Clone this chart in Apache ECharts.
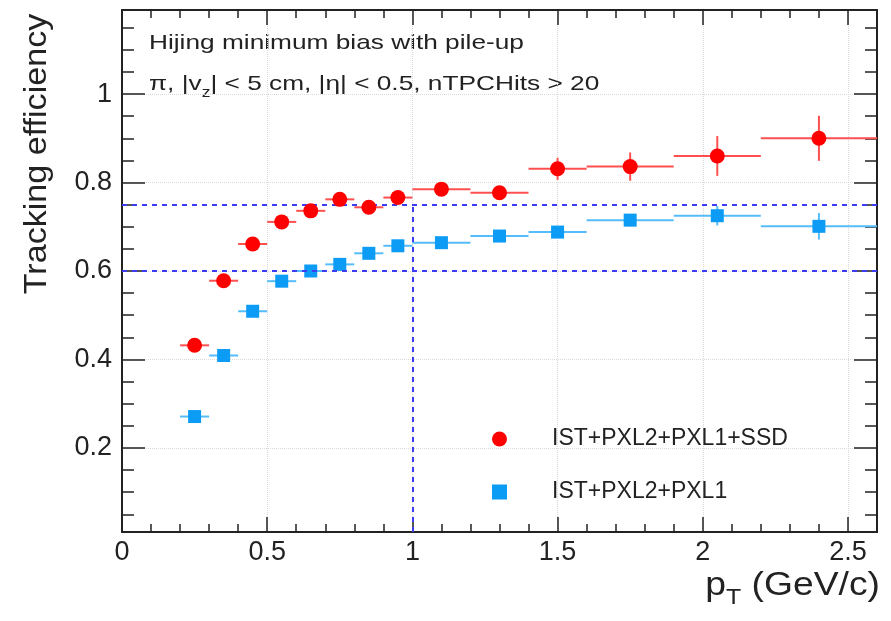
<!DOCTYPE html>
<html>
<head>
<meta charset="utf-8">
<script src="https://cdn.jsdelivr.net/npm/echarts@6/dist/echarts.min.js"></script>
<style>html,body{margin:0;padding:0;background:#fff}#c{width:891px;height:621px}</style>
</head>
<body>
<div id="c"></div>
<script>
// ---- data ----
const ptCenters   = [0.25, 0.35, 0.45, 0.55, 0.65, 0.75, 0.85, 0.95, 1.1, 1.3, 1.5, 1.75, 2.05, 2.4];
const ptHalfWidth = [0.05, 0.05, 0.05, 0.05, 0.05, 0.05, 0.05, 0.05, 0.1, 0.1, 0.1, 0.15, 0.15, 0.2];
const effSSD      = [0.432, 0.578, 0.661, 0.711, 0.736, 0.762, 0.744, 0.766, 0.785, 0.777, 0.831, 0.836, 0.860, 0.900];
const errSSD      = [0.006, 0.007, 0.007, 0.007, 0.008, 0.008, 0.009, 0.009, 0.010, 0.012, 0.025, 0.032, 0.045, 0.051];
const effNoSSD    = [0.271, 0.409, 0.509, 0.577, 0.600, 0.615, 0.640, 0.657, 0.664, 0.679, 0.688, 0.715, 0.725, 0.701];
const errNoSSD    = [0.005, 0.006, 0.006, 0.007, 0.007, 0.007, 0.008, 0.008, 0.008, 0.010, 0.012, 0.014, 0.022, 0.030];
const seriesNames = ['IST+PXL2+PXL1+SSD', 'IST+PXL2+PXL1'];

const xRange = [0, 2.6];
const yRange = [0.01, 1.19];
const xMajorTicks = [0, 0.5, 1, 1.5, 2, 2.5];
const xMinorTicks = [0.1, 0.2, 0.3, 0.4, 0.6, 0.7, 0.8, 0.9, 1.1, 1.2, 1.3, 1.4, 1.6, 1.7, 1.8, 1.9, 2.1, 2.2, 2.3, 2.4];
const yMajorTicks = [0.2, 0.4, 0.6, 0.8, 1];
const yMinorTicks = [0.05, 0.1, 0.15, 0.25, 0.3, 0.35, 0.45, 0.5, 0.55, 0.65, 0.7, 0.75, 0.85, 0.9, 0.95, 1.05, 1.1, 1.15];

// reference lines [x1, y1, x2, y2]
const refLines = [[0, 0.75, 2.6, 0.75], [0, 0.6, 2.6, 0.6], [1, 0.01, 1, 0.75]];

const annotLine1 = 'Hijing minimum bias with pile-up';
const annotLine2 = 'π, |v{sub|z}| < 5 cm, |η| < 0.5, nTPCHits > 20';
const yTitle = 'Tracking efficiency';
const xTitle = 'p{sub|T} (GeV/c)';

// ---- styling ----
const FONT = '"Liberation Sans", Arial, Helvetica, sans-serif';
const RED = '#ff0000', RED_ERR = '#ff5050';
const BLUE = '#0d9cf5', BLUE_ERR = '#55bdfb';
const FRAME = '#222';

function rows(eff, err) {
  return ptCenters.map((x, i) => [x, eff[i], ptHalfWidth[i], err[i]]);
}
function errRender(color) {
  return function (params, api) {
    const x = api.value(0), y = api.value(1), ex = api.value(2), ey = api.value(3);
    const l = api.coord([x - ex, y]), r = api.coord([x + ex, y]);
    const t = api.coord([x, y + ey]), b = api.coord([x, y - ey]);
    return {
      type: 'group',
      children: [
        {type: 'line', shape: {x1: l[0], y1: l[1], x2: r[0], y2: r[1]}, style: {stroke: color, lineWidth: 2}},
        {type: 'line', shape: {x1: t[0], y1: t[1], x2: b[0], y2: b[1]}, style: {stroke: color, lineWidth: 2}}
      ]
    };
  };
}

function xAx(pos, ticks, len, withLabel, withLine, withSplit) {
  return {
    type: 'value', min: xRange[0], max: xRange[1], position: pos,
    axisLine: {show: withLine, onZero: false, lineStyle: {color: FRAME, width: 2}},
    axisTick: {show: true, inside: true, length: len, customValues: ticks, lineStyle: {color: FRAME, width: 1.5}},
    axisLabel: withLabel ? {show: true, customValues: ticks, formatter: v => String(v), fontSize: 27, color: '#222', fontFamily: FONT, margin: 7} : {show: false},
    splitLine: {show: withSplit, lineStyle: {type: 'dotted', color: '#d9d9d9', width: 1}}
  };
}
function yAx(pos, ticks, len, withLabel, withLine, withSplit) {
  return {
    type: 'value', min: yRange[0], max: yRange[1], position: pos,
    axisLine: {show: withLine, onZero: false, lineStyle: {color: FRAME, width: 2}},
    axisTick: {show: true, inside: true, length: len, customValues: ticks, lineStyle: {color: FRAME, width: 1.5}},
    axisLabel: withLabel ? {show: true, customValues: ticks, formatter: v => String(v), fontSize: 27, color: '#222', fontFamily: FONT, margin: 10} : {show: false},
    splitLine: {show: withSplit, lineStyle: {type: 'dotted', color: '#d9d9d9', width: 1}}
  };
}

const chart = echarts.init(document.getElementById('c'));
chart.setOption({
  animation: false,
  backgroundColor: '#fff',
  grid: {left: 122, top: 10, width: 755, height: 522},
  xAxis: [
    xAx('bottom', xMajorTicks, 15, true, true, true),
    xAx('bottom', xMinorTicks, 8, false, false, false),
    xAx('top', xMajorTicks, 15, false, true, false),
    xAx('top', xMinorTicks, 8, false, false, false)
  ],
  yAxis: [
    yAx('left', yMajorTicks, 23, true, true, true),
    yAx('left', yMinorTicks, 12, false, false, false),
    yAx('right', yMajorTicks, 23, false, true, false),
    yAx('right', yMinorTicks, 12, false, false, false)
  ],
  legend: {
    orient: 'vertical', left: 487, top: 422, itemWidth: 15, itemHeight: 15, itemGap: 29,
    selectedMode: false,
    data: [{name: seriesNames[0], icon: 'circle'}, {name: seriesNames[1], icon: 'rect'}],
    textStyle: {fontSize: 23, fontFamily: FONT, color: '#222', lineHeight: 24, padding: [0, 0, 0, 40]}
  },
  graphic: [
    {type: 'text', x: 149, y: 43, scaleX: 1.25, silent: true,
      style: {text: annotLine1, fontSize: 21, fontFamily: FONT, fill: '#222', verticalAlign: 'middle', align: 'left'}},
    {type: 'text', x: 149, y: 84, scaleX: 1.25, silent: true,
      style: {text: annotLine2, fontSize: 21, fontFamily: FONT, fill: '#222', verticalAlign: 'middle', align: 'left', lineHeight: 32,
        rich: {sub: {fontSize: 14, fontFamily: FONT, fill: '#222', verticalAlign: 'bottom', lineHeight: 14}}}},
    {type: 'text', x: 37, y: 154, rotation: Math.PI / 2, scaleX: 1.1, silent: true,
      style: {text: yTitle, fontSize: 31, fontFamily: FONT, fill: '#222', verticalAlign: 'middle', align: 'center'}},
    {type: 'text', x: 880, y: 586, scaleX: 1.13, silent: true,
      style: {text: xTitle, fontSize: 33, fontFamily: FONT, fill: '#222', verticalAlign: 'middle', align: 'right', lineHeight: 46,
        rich: {sub: {fontSize: 22, fontFamily: FONT, fill: '#222', verticalAlign: 'bottom', lineHeight: 22}}}}
  ],
  series: [
    {type: 'line', name: 'ref', data: [], xAxisIndex: 0, yAxisIndex: 0, silent: true,
      markLine: {symbol: 'none', silent: true, label: {show: false},
        lineStyle: {color: '#3c3cf2', width: 2, type: [5, 5]},
        data: refLines.map(l => [{coord: [l[0], l[1]]}, {coord: [l[2], l[3]]}])}},
    {type: 'custom', name: 'errNoSSD', data: rows(effNoSSD, errNoSSD), renderItem: errRender(BLUE_ERR),
      encode: {x: 0, y: 1}, z: 2, silent: true},
    {type: 'custom', name: 'errSSD', data: rows(effSSD, errSSD), renderItem: errRender(RED_ERR),
      encode: {x: 0, y: 1}, z: 2, silent: true},
    {type: 'scatter', name: seriesNames[1], data: ptCenters.map((x, i) => [x, effNoSSD[i]]),
      symbol: 'rect', symbolSize: 13, itemStyle: {color: BLUE, opacity: 1}, z: 4},
    {type: 'scatter', name: seriesNames[0], data: ptCenters.map((x, i) => [x, effSSD[i]]),
      symbol: 'circle', symbolSize: 15, itemStyle: {color: RED, opacity: 1}, z: 5}
  ]
});
</script>
</body>
</html>
